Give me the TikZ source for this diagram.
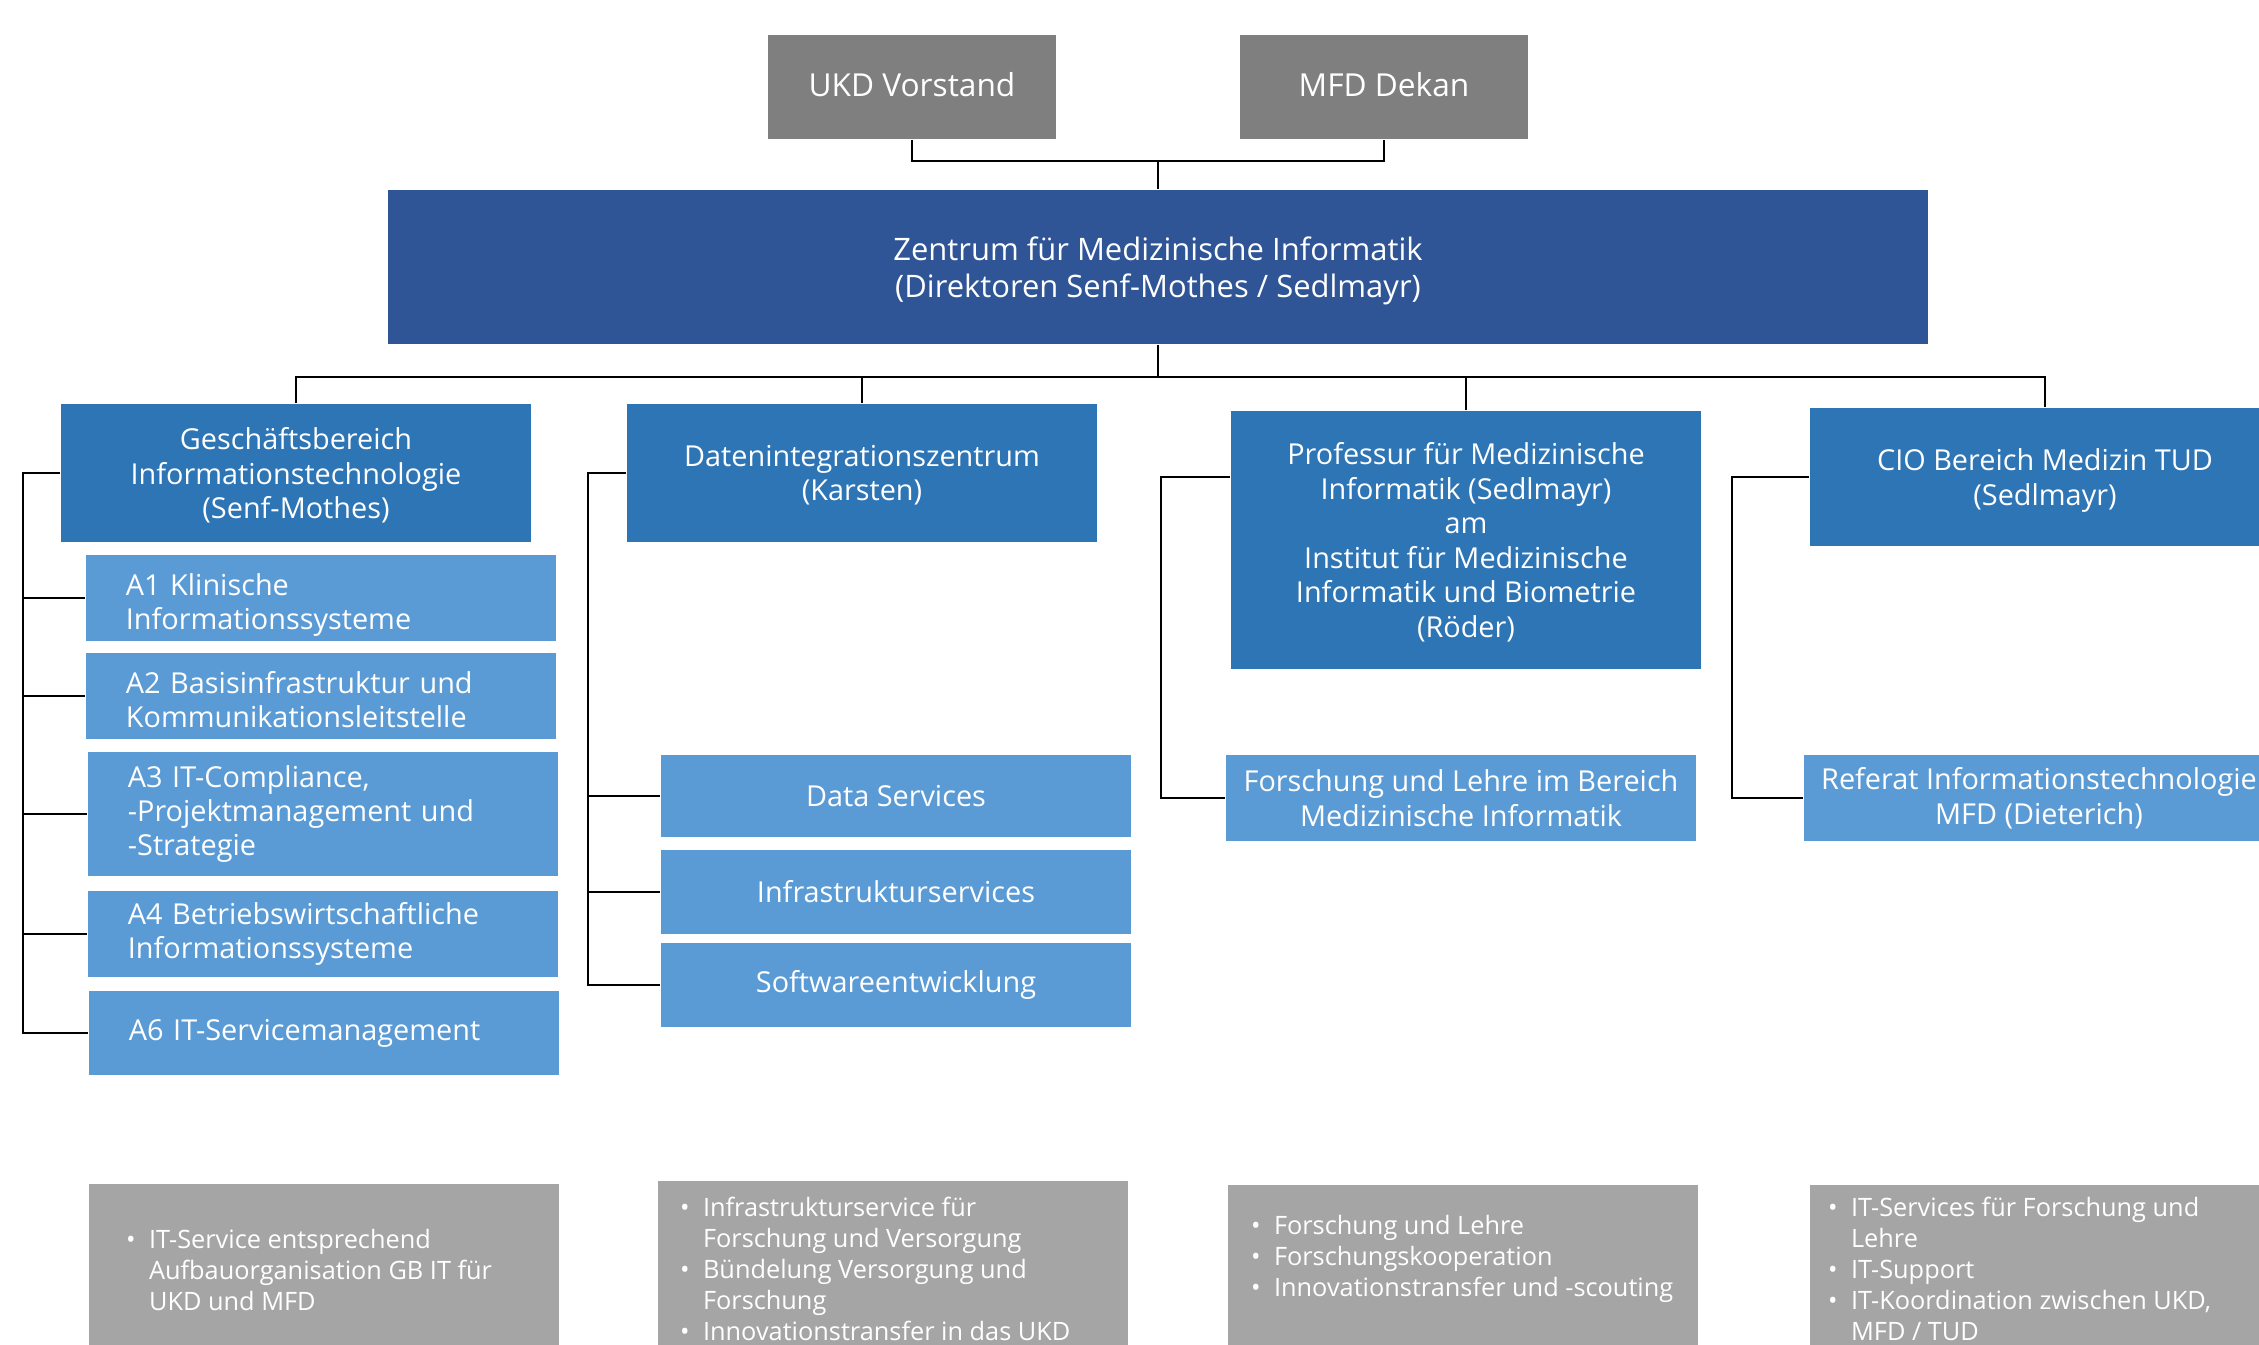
\documentclass[tikz,border=0pt]{standalone}
\usepackage{fontspec}
\setmainfont{Open Sans}
\usepackage{tikz}
\definecolor{headgrey}{HTML}{7F7F7F}
\definecolor{zmiblue}{HTML}{2F5597}
\definecolor{unitblue}{HTML}{2E75B6}
\definecolor{subblue}{HTML}{5B9BD5}
\definecolor{taskgrey}{HTML}{A5A5A5}
\newcommand{\bul}{\makebox[0.23cm][l]{\textbullet}}
\newcommand{\ind}{\hspace*{0.23cm}}

\begin{document}
\begin{tikzpicture}[x=0.01cm,y=-0.01cm,line width=0.6pt,
		headbox/.style={fill=headgrey,text=white,minimum width=2.87cm,minimum height=1.03cm,inner sep=0pt,text depth=1.5pt,font=\fontsize{9}{11}\selectfont},
		zmibox/.style={fill=zmiblue,text=white,minimum width=15.39cm,minimum height=1.54cm,align=center,text depth=-0.4pt,font=\fontsize{8.8}{10.7}\selectfont},
		unitbox/.style={fill=unitblue,text=white,minimum width=4.7cm,minimum height=1.37cm,align=center,inner sep=0pt,text depth=-1.2pt,font=\fontsize{8.2}{9.8}\selectfont},
		subbox/.style={fill=subblue,text=white,minimum width=4.7cm,align=center,inner sep=0pt,font=\fontsize{8.2}{9.8}\selectfont},
		subleft/.style={subbox,align=left,text width=3.9cm,inner xsep=0.4cm},
		taskbox/.style={fill=taskgrey,minimum width=4.7cm,minimum height=2.4cm,anchor=north},
		tasktext/.style={text=white,anchor=north west,align=left,inner sep=0pt,font=\fontsize{7.2}{8.8}\selectfont}]

		\useasboundingbox (0,0) rectangle (2259,1344);

		\node[headbox] (ukd) at (912,87) {UKD Vorstand};
		\node[headbox] (mfd) at (1384,87) {MFD Dekan};
		\node[zmibox] (zmi) at (1158,267) {Zentrum für Medizinische Informatik\\(Direktoren Senf-Mothes / Sedlmayr)};

		\node[unitbox] (gbit) at (296,473) {Geschäftsbereich\\Informationstechnologie\\(Senf-Mothes)};
		\node[unitbox] (diz) at (862,473) {Datenintegrationszentrum\\(Karsten)};
		\node[unitbox,minimum height=2.57cm] (prof) at (1466,540) {Professur für Medizinische\\Informatik (Sedlmayr)\\am\\Institut für Medizinische\\Informatik und Biometrie\\(Röder)};
		\node[unitbox,text depth=-2.8pt] (cio) at (2045,477) {CIO Bereich Medizin TUD\\(Sedlmayr)};

		\node[subleft,minimum height=0.86cm,text depth=7.8pt] (a1) at (321,598) {A1 Klinische\\Informationssysteme};
		\node[subleft,minimum height=0.85cm,text depth=7.8pt] (a2) at (321,696) {A2 Basisinfrastruktur und\\Kommunikationsleitstelle};
		\node[subleft,minimum height=1.24cm] (a3) at (323,814) {A3 IT-Compliance,\\-Projektmanagement und\\-Strategie};
		\node[subleft,minimum height=0.85cm] (a4) at (323,934) {A4 Betriebswirtschaftliche\\Informationssysteme};
		\node[subleft,minimum height=0.84cm] (a6) at (324,1033) {A6 IT-Servicemanagement};

		\node[subbox,minimum height=0.82cm,text depth=-2.6pt] (ds) at (896,796) {Data Services};
		\node[subbox,minimum height=0.84cm] (infra) at (896,892) {Infrastrukturservices};
		\node[subbox,minimum height=0.83cm] (sw) at (896,985) {Softwareentwicklung};
		\node[subbox,minimum height=0.86cm] (ful) at (1461,798) {Forschung und Lehre im Bereich\\Medizinische Informatik};
		\node[subbox,minimum height=0.85cm] (refit) at (2039,798) {Referat Informationstechnologie\\MFD (Dieterich)};

		\node[taskbox] (tgbit) at (324,1183) {};
		\node[taskbox] (tdiz) at (893,1180) {};
		\node[taskbox] (tprof) at (1463,1184) {};
		\node[taskbox] (tcio) at (2045,1184) {};
		\node[tasktext] (lgbit) at (125,1228) {\bul IT-Service entsprechend\\\ind Aufbauorganisation GB IT für\\\ind UKD und MFD};
		\node[tasktext] (ldiz) at (679,1196) {\bul Infrastrukturservice für\\\ind Forschung und Versorgung\\\bul Bündelung Versorgung und\\\ind Forschung\\\bul Innovationstransfer in das UKD};
		\node[tasktext] (lprof) at (1250,1214) {\bul Forschung und Lehre\\\bul Forschungskooperation\\\bul Innovationstransfer und -scouting};
		\node[tasktext] (lcio) at (1827,1196) {\bul IT-Services für Forschung und\\\ind Lehre\\\bul IT-Support\\\bul IT-Koordination zwischen UKD,\\\ind MFD / TUD};

		\coordinate (join) at (1158,161);
		\draw (ukd.south) |- (join) -| (mfd.south);
		\draw (join) -- (zmi.north);
		\coordinate (bus) at (1158,377);
		\draw (zmi.south) -- (bus);
		\draw (gbit.north) |- (bus) -| (cio.north);
		\draw (diz.north) -- (diz.north |- bus);
		\draw (prof.north) -- (prof.north |- bus);

		\coordinate (sgbit) at (23,0);
		\draw (gbit.west) -| (sgbit |- a6.west) -- (a6.west);
		\foreach \n in {a1,a2,a3,a4}
			\draw (\n.west) -- (sgbit |- \n.west);
		\coordinate (sdiz) at (588,0);
		\draw (diz.west) -| (sdiz |- sw.west) -- (sw.west);
		\foreach \n in {ds,infra}
			\draw (\n.west) -- (sdiz |- \n.west);
		\coordinate (sprof) at (1161,0);
		\draw (prof.west |- cio.west) -| (sprof |- ful.west) -- (ful.west);
		\coordinate (scio) at (1732,0);
		\draw (cio.west) -| (scio |- refit.west) -- (refit.west);
	\end{tikzpicture}
\end{document}
